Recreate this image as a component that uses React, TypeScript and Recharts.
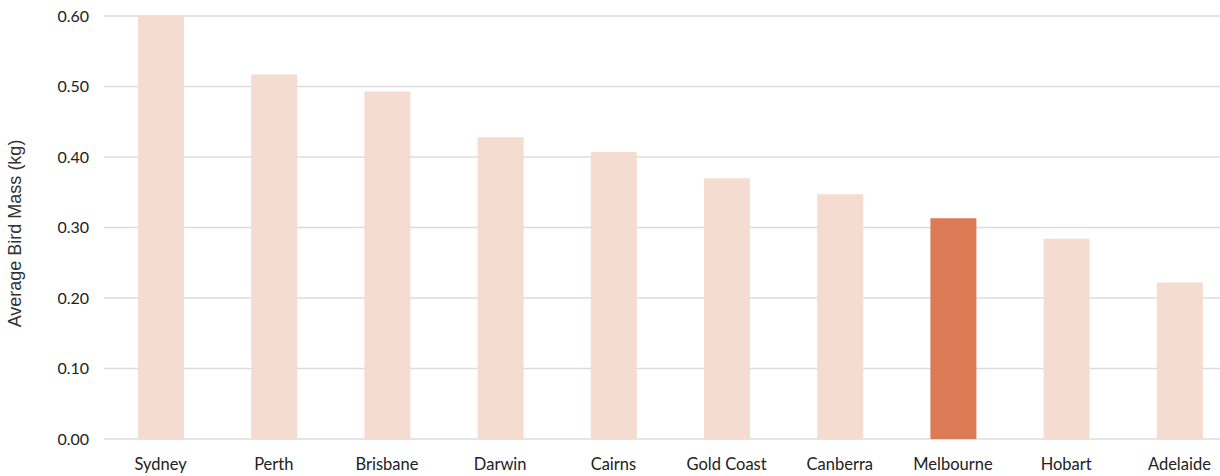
import { BarChart, Bar, XAxis, YAxis, CartesianGrid, Cell } from 'recharts'

const cities = ['Sydney', 'Perth', 'Brisbane', 'Darwin', 'Cairns', 'Gold Coast', 'Canberra', 'Melbourne', 'Hobart', 'Adelaide']
const avgMass = [0.6, 0.517, 0.493, 0.428, 0.407, 0.37, 0.347, 0.313, 0.284, 0.222]
const yTicks = [0, 0.1, 0.2, 0.3, 0.4, 0.5, 0.6]
const highlightCity = 'Melbourne'

const BASE = '#f5dcd1'
const ACCENT = '#db7a55'
const TEXT = '#222'

const data = cities.map((city, i) => ({ city, mass: avgMass[i] }))

export default function App() {
  return (
    <div style={{ position: 'absolute', left: 0, top: 0, width: 1220, height: 476, overflow: 'hidden', background: '#fff' }}>
      <BarChart width={1236} height={476} data={data} margin={{ top: 16, right: 0, bottom: 7, left: 0 }}>
        <CartesianGrid vertical={false} stroke="#dcdcdc" strokeWidth={1.5} />
        <XAxis
          dataKey="city"
          height={30}
          axisLine={false}
          tickLine={false}
          tickSize={0}
          tickMargin={19}
          interval={0}
          tick={{ fill: TEXT, fontSize: 16.5, fontFamily: 'Lato, sans-serif' }}
        />
        <YAxis
          width={104}
          domain={[0, 0.6]}
          ticks={yTicks}
          tickFormatter={(v: number) => v.toFixed(2)}
          axisLine={false}
          tickLine={false}
          tickSize={0}
          tickMargin={15}
          tick={{ fill: TEXT, fontSize: 16, fontFamily: 'Lato, sans-serif' }}
          label={{
            value: 'Average Bird Mass (kg)',
            angle: -90,
            position: 'insideLeft',
            offset: 15,
            dy: 6,
            style: { textAnchor: 'middle', fill: '#333', fontSize: 18, fontFamily: '"Liberation Sans", Arial, sans-serif' },
          }}
        />
        <Bar dataKey="mass" barSize={46} isAnimationActive={false}>
          {data.map((d) => (
            <Cell key={d.city} fill={d.city === highlightCity ? ACCENT : BASE} />
          ))}
        </Bar>
      </BarChart>
    </div>
  )
}
